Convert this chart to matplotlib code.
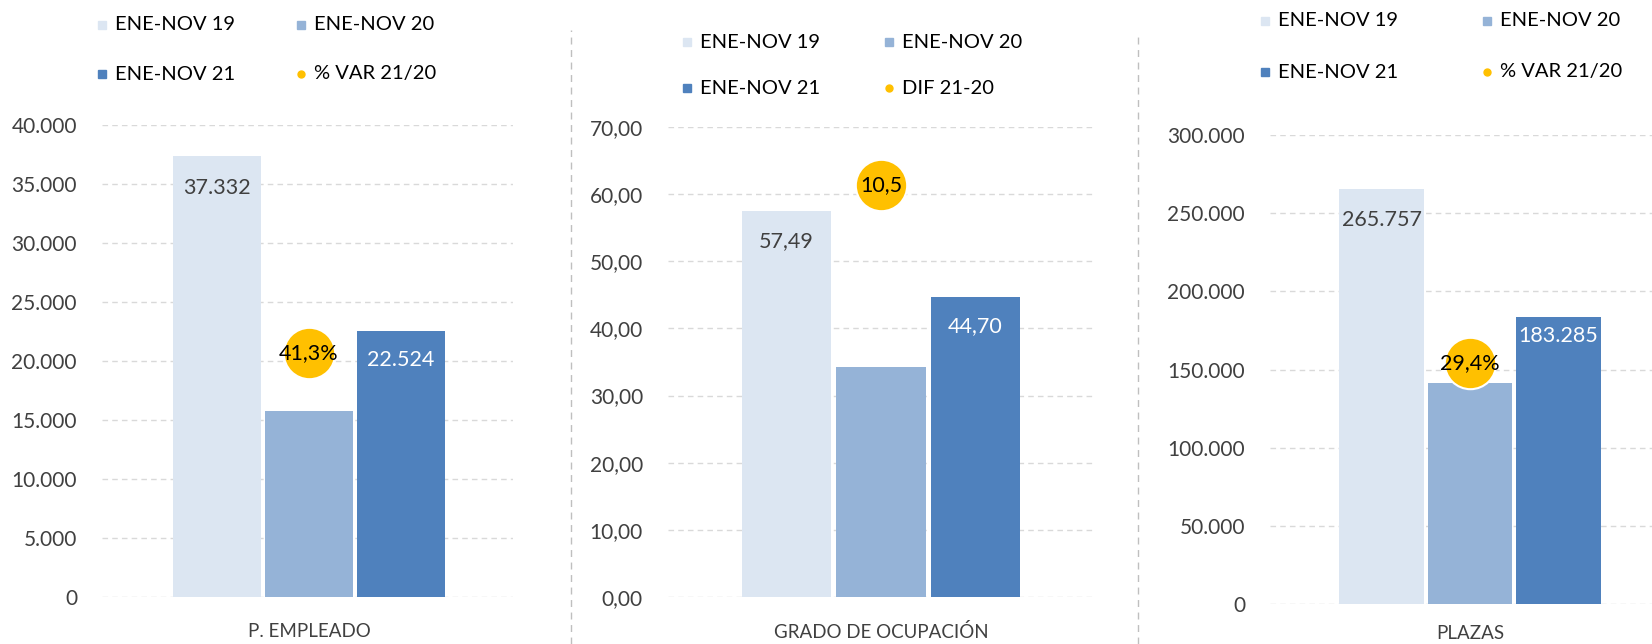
import numpy as np
import matplotlib
matplotlib.use('Agg')
import matplotlib.pyplot as plt
from matplotlib.lines import Line2D
from matplotlib.ticker import FuncFormatter

plt.rcParams['font.family'] = ['Lato', 'DejaVu Sans']

# data
series = ['ENE-NOV 19', 'ENE-NOV 20', 'ENE-NOV 21']
panels = ['P. EMPLEADO', 'GRADO DE OCUPACIÓN', 'PLAZAS']
bubble_names = ['% VAR 21/20', 'DIF 21-20', '% VAR 21/20']

empleado = [37332, 15800, 22524]
ocupacion = [57.49, 34.20, 44.70]
plazas = [265757, 141642, 183285]

bubble_labels = ['41,3%', '10,5', '29,4%']
bubble_y = [20700, 61.4, 154000]   # where the yellow dot sits on each axis

ymax = [40000, 70, 300000]
ystep = [5000, 10, 50000]

colors = ['#DCE6F2', '#95B3D7', '#4F81BD']
yellow = '#FFC000'
grid_c = '#D9D9D9'
txt_c = '#404040'

W, H = 1652, 644
fig = plt.figure(figsize=(W / 100, H / 100), dpi=100)


def px(x0, y0, x1, y1):
    # pixel box (top-left origin) -> figure fraction rect
    return [x0 / W, 1 - y1 / H, (x1 - x0) / W, (y1 - y0) / H]


def fmt_int(v, pos=None):
    return '{:,.0f}'.format(v).replace(',', '.')


def fmt_dec(v, pos=None):
    return '{:.2f}'.format(v).replace('.', ',')


boxes = [px(102, 125, 513, 597), px(668, 127, 1094, 597), px(1270, 135, 1652, 604)]
xlims = [(-0.675, 0.665), (-0.676, 0.676), (-0.678, 0.617)]
formatters = [fmt_int, fmt_dec, fmt_int]
values = [empleado, ocupacion, plazas]
# label offsets (points) below bar top for bar 1 and bar 3
lab_off = [(23, 21), (22, 21), (23, 13)]
xpad = [19, 19, 15]

# legend pixel positions: (marker x col1, marker x col2, row1 y, row2 y)
leg_pos = [(102, 301, 25, 74), (687, 889, 42, 88), (1265, 1487, 21, 72)]

for i in range(3):
    ax = fig.add_axes(boxes[i])
    vals = values[i]
    xs = np.array([-0.30, 0.0, 0.30])
    ax.bar(xs, vals, width=0.285, color=colors, zorder=2)
    ax.set_xlim(*xlims[i])
    ax.set_ylim(0, ymax[i])
    ax.set_yticks(np.arange(0, ymax[i] + ystep[i] / 2, ystep[i]))
    ax.yaxis.set_major_formatter(FuncFormatter(formatters[i]))
    ax.grid(axis='y', color=grid_c, linestyle=(0, (4, 3)), linewidth=1, zorder=0)
    for s in ax.spines.values():
        s.set_visible(False)
    ax.tick_params(axis='y', length=0, pad=18, labelsize=15, labelcolor=txt_c)
    ax.set_xticks([0], [panels[i]])
    ax.tick_params(axis='x', length=0, pad=xpad[i], labelsize=13.5, labelcolor=txt_c)

    if i == 1:
        l1 = fmt_dec(vals[0])
        l3 = fmt_dec(vals[2])
    else:
        l1 = fmt_int(vals[0])
        l3 = fmt_int(vals[2])
    ax.annotate(l1, (xs[0], vals[0]), xytext=(0, -lab_off[i][0]), textcoords='offset points',
                ha='center', va='center', fontsize=15.5, color=txt_c)
    ax.annotate(l3, (xs[2], vals[2]), xytext=(0, -lab_off[i][1]), textcoords='offset points',
                ha='center', va='center', fontsize=15.5, color='white')

    ax.plot([0], [bubble_y[i]], 'o', ms=37, color=yellow, mec='white', mew=1.5, zorder=3,
            clip_on=False)
    ax.text(0, bubble_y[i], bubble_labels[i], ha='center', va='center', fontsize=15.5,
            color='black', zorder=4)

    # legend drawn by hand so it sits where the reference has it
    cx1, cx2, ry1, ry2 = leg_pos[i]
    items = [(cx1, ry1, 's', colors[0], series[0]), (cx2, ry1, 's', colors[1], series[1]),
             (cx1, ry2, 's', colors[2], series[2]), (cx2, ry2, 'o', yellow, bubble_names[i])]
    for mx, my, mk, mc, lab in items:
        fig.add_artist(Line2D([mx / W], [1 - my / H], marker=mk, ms=6 if mk == 's' else 5,
                              color=mc, mec=mc, linestyle='none'))
        fig.text((mx + 13) / W, 1 - my / H, lab, ha='left', va='center', fontsize=14.5,
                 color='black')

# dashed separators between panels
for sx, sy in [(571, 30), (1138, 33)]:
    fig.add_artist(Line2D([sx / W, sx / W], [0, 1 - sy / H], color='#BFBFBF',
                          linestyle=(0, (5, 4)), linewidth=1))

fig.savefig('out.png', dpi=100)
